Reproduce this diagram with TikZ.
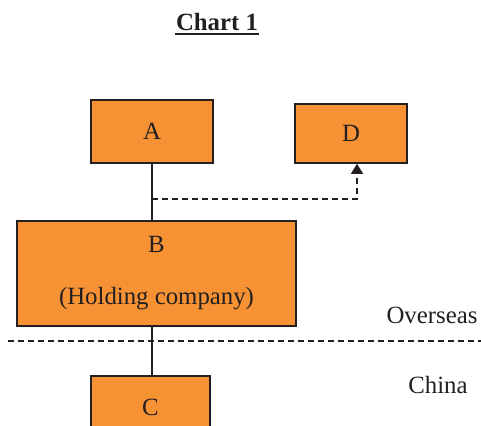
\documentclass[tikz,border=0pt]{standalone}
\usepackage{fontspec}
\setmainfont{Liberation Serif}
\usetikzlibrary{calc,positioning,arrows.meta}

\definecolor{boxorange}{RGB}{246,146,52}
\definecolor{inkgray}{RGB}{35,31,32}

\begin{document}
\begin{tikzpicture}[x=0.5pt, y=-0.5pt, line width=0.7pt,
    font=\fontsize{12.4}{14}\selectfont, text=inkgray,
    entity/.style={draw=inkgray, fill=boxorange, line width=0.8pt, rectangle, align=center, inner sep=0pt},
    link/.style={draw=inkgray},
    divide/.style={draw=inkgray, dash pattern=on 3pt off 2pt}]
  \useasboundingbox (0,0) rectangle (481,426);

  \node[font=\fontsize{12.4}{14}\selectfont\bfseries, inner sep=0pt] (title) at (217,22) {Chart 1};
  \draw[inkgray, line width=1.1pt] ([yshift=-1.6pt]title.base west) -- ([yshift=-1.6pt]title.base east);

  \node[entity, minimum width=61pt, minimum height=31.5pt] (A) at (152,131.5) {A};
  \node[entity, minimum width=56pt, minimum height=29.5pt] (D) at (351,133.5) {D};
  \node[entity, minimum width=139.5pt, minimum height=52.5pt] (B) at (156.5,273.5) {B\\[12pt](Holding company)};
  \node[entity, minimum width=59.5pt, minimum height=31.5pt] (C) at (150.5,407.5) {C};

  \draw[link] (A.south) -- (A.south |- B.north);
  \draw[link] (A.south |- B.south) -- (A.south |- C.north);

  \coordinate (tap) at (152,199);
  \draw[divide, -{Triangle[length=5pt,width=6pt]}] (tap) -| ([xshift=3pt]D.south);

  \coordinate (borderL) at (8,341);
  \coordinate (borderR) at (481,341);
  \draw[divide] (borderL) -- (borderR);

  \node (overseas) at (432,315) {Overseas};
  \node (china) at (438,385) {China};
\end{tikzpicture}
\end{document}
